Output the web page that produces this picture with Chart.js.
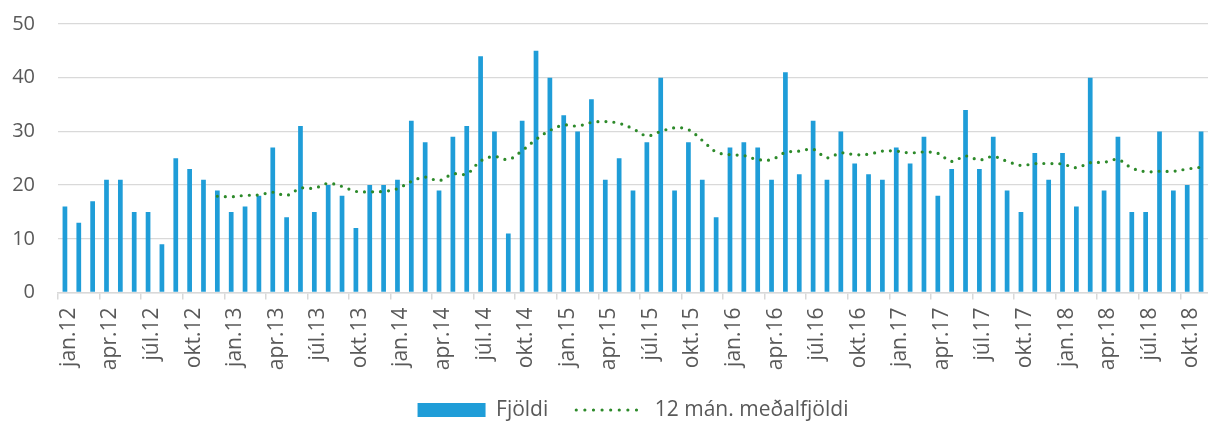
<!DOCTYPE html>
<html lang="is">
<head>
    <meta charset="UTF-8">
    <title>Fjöldi</title>
    <style>
        body {
            margin: 0;
            padding: 0;
            background: #ffffff;
        }
        #chart {
            display: block;
        }
    </style>
</head>
<body>
    <canvas id="chart" width="1208" height="422"></canvas>
    <script src="https://cdn.jsdelivr.net/npm/chart.js@4/dist/chart.umd.min.js"></script>
    <script>
        const monthNames = ['jan', 'feb', 'mar', 'apr', 'maí', 'jún', 'júl', 'ágú', 'sep', 'okt', 'nóv', 'des'];
        const years = ['12', '13', '14', '15', '16', '17', '18'];
        const monthCount = 83; // jan.12 - nóv.18

        const fjoldi = [
            16, 13, 17, 21, 21, 15, 15, 9, 25, 23, 21, 19,
            15, 16, 18, 27, 14, 31, 15, 20, 18, 12, 20, 20,
            21, 32, 28, 19, 29, 31, 44, 30, 11, 32, 45, 40,
            33, 30, 36, 21, 25, 19, 28, 40, 19, 28, 21, 14,
            27, 28, 27, 21, 41, 22, 32, 21, 30, 24, 22, 21,
            27, 24, 29, 18, 23, 34, 23, 29, 19, 15, 26, 21,
            26, 16, 40, 19, 29, 15, 15, 30, 19, 20, 30
        ];

        // 12 mán. meðaltal, fyrstu 11 mánuðir án gilda
        const medalfjoldi = [
            null, null, null, null, null, null, null, null, null, null, null,
            17.92, 17.83, 18.08, 18.17, 18.67, 18.08, 19.42, 19.42, 20.33, 19.75, 18.83, 18.75, 18.83,
            19.33, 20.67, 21.5, 20.83, 22.08, 22.08, 24.5, 25.33, 24.75, 26.42, 28.5, 30.17,
            31.17, 31.0, 31.67, 31.83, 31.5, 30.5, 29.17, 30.0, 30.67, 30.33, 28.33, 26.17,
            25.67, 25.5, 24.75, 24.75, 26.08, 26.33, 26.67, 25.08, 26.0, 25.67, 25.75, 26.33,
            26.33, 26.0, 26.17, 25.92, 24.42, 25.42, 24.67, 25.33, 24.42, 23.67, 24.0, 24.0,
            23.92, 23.25, 24.17, 24.25, 24.75, 23.17, 22.5, 22.58, 22.58, 23.0, 23.33
        ];

        const yTicks = [0, 10, 20, 30, 40, 50];

        const labels = [];
        for (let i = 0; i < monthCount; i++) {
            labels.push(monthNames[i % 12] + '.' + years[Math.floor(i / 12)]);
        }

        const barColor = '#1f9dd8';
        const lineColor = '#2d8a2a';
        const textColor = '#595959';
        const gridColor = '#d9d9d9';
        const family = '"Open Sans", sans-serif';

        const ctx = document.getElementById('chart').getContext('2d');
        const chart = new Chart(ctx, {
            type: 'bar',
            data: {
                labels: labels,
                datasets: [
                    {
                        label: 'Fjöldi',
                        data: fjoldi,
                        backgroundColor: barColor,
                        categoryPercentage: 1,
                        barPercentage: 0.34,
                        order: 2
                    },
                    {
                        type: 'line',
                        label: '12 mán. meðalfjöldi',
                        data: medalfjoldi,
                        borderColor: lineColor,
                        borderWidth: 3.2,
                        borderDash: [0, 8],
                        borderCapStyle: 'round',
                        pointRadius: 0,
                        tension: 0.35,
                        fill: false,
                        order: 1
                    }
                ]
            },
            options: {
                responsive: false,
                animation: false,
                devicePixelRatio: 1,
                layout: {
                    padding: { top: 24, left: 0, right: 0, bottom: 0 }
                },
                plugins: {
                    tooltip: { enabled: false },
                    legend: {
                        position: 'bottom',
                        fullSize: false,
                        maxHeight: 50.5,
                        labels: {
                            font: { family: family, size: 21 },
                            color: textColor,
                            usePointStyle: true,
                            pointStyleWidth: 68,
                            boxHeight: 14,
                            padding: 28,
                            generateLabels: function() {
                                return [
                                    {
                                        text: 'Fjöldi',
                                        fillStyle: barColor,
                                        strokeStyle: barColor,
                                        lineWidth: 0,
                                        pointStyle: 'rect',
                                        fontColor: textColor,
                                        datasetIndex: 0
                                    },
                                    {
                                        text: '12 mán. meðalfjöldi',
                                        fillStyle: 'rgba(0,0,0,0)',
                                        strokeStyle: lineColor,
                                        lineWidth: 3.2,
                                        lineDash: [0, 8.6],
                                        lineCap: 'round',
                                        pointStyle: 'line',
                                        fontColor: textColor,
                                        datasetIndex: 1
                                    }
                                ];
                            }
                        }
                    }
                },
                scales: {
                    x: {
                        offset: true,
                        grid: {
                            offset: true,
                            drawOnChartArea: false,
                            tickLength: 7,
                            lineWidth: 1.5,
                            color: function(c) {
                                return (c.index !== undefined && c.index % 3 === 0) ? gridColor : 'rgba(0,0,0,0)';
                            }
                        },
                        border: { display: true, color: gridColor, width: 1.5 },
                        ticks: {
                            autoSkip: false,
                            minRotation: 90,
                            maxRotation: 90,
                            padding: 8,
                            labelOffset: 4,
                            font: { family: family, size: 21 },
                            color: textColor,
                            callback: function(value, index) {
                                return index % 3 === 0 ? this.getLabelForValue(value) : '';
                            }
                        },
                        afterFit: function(scale) {
                            scale.paddingLeft = 0;
                            scale.paddingRight = 0;
                            scale.height = 79;
                        }
                    },
                    y: {
                        min: yTicks[0],
                        max: yTicks[yTicks.length - 1],
                        grid: {
                            color: gridColor,
                            lineWidth: 1.3,
                            drawTicks: false
                        },
                        border: { display: false },
                        ticks: {
                            stepSize: 10,
                            padding: 23,
                            font: { family: family, size: 20 },
                            color: textColor
                        },
                        afterFit: function(scale) {
                            scale.width = 58;
                            scale.paddingTop = 0;
                            scale.paddingBottom = 0;
                        }
                    }
                }
            }
        });
    </script>
</body>
</html>
